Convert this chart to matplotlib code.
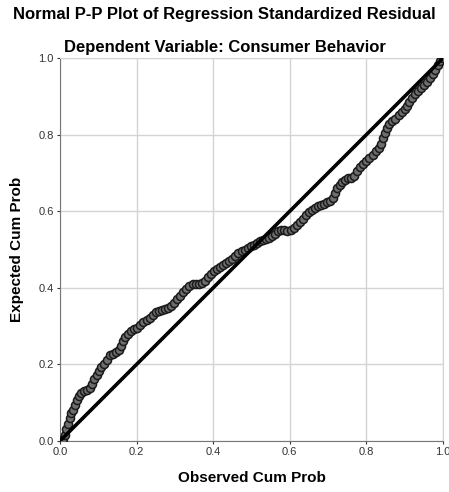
import matplotlib
matplotlib.use("Agg")
import matplotlib.pyplot as plt

# observed vs expected cumulative probability
observed = [0.000, 0.008, 0.013, 0.017, 0.021, 0.025, 0.030, 0.035, 0.040, 0.045,
            0.050, 0.055, 0.062, 0.070, 0.078, 0.084, 0.090, 0.096, 0.102, 0.108,
            0.115, 0.122, 0.130, 0.138, 0.146, 0.154, 0.160, 0.165, 0.170, 0.178,
            0.186, 0.194, 0.202, 0.210, 0.218, 0.226, 0.234, 0.242, 0.250, 0.258,
            0.266, 0.274, 0.282, 0.290, 0.298, 0.306, 0.314, 0.322, 0.330, 0.338,
            0.346, 0.354, 0.362, 0.370, 0.378, 0.386, 0.394, 0.402, 0.410, 0.418,
            0.426, 0.434, 0.442, 0.450, 0.458, 0.466, 0.474, 0.482, 0.490, 0.498,
            0.506, 0.514, 0.522, 0.530, 0.538, 0.546, 0.554, 0.562, 0.570, 0.578,
            0.586, 0.594, 0.602, 0.610, 0.618, 0.626, 0.634, 0.642, 0.650, 0.658,
            0.666, 0.674, 0.682, 0.690, 0.698, 0.706, 0.712, 0.718, 0.724, 0.730,
            0.736, 0.744, 0.752, 0.760, 0.768, 0.776, 0.784, 0.792, 0.800, 0.808,
            0.816, 0.824, 0.832, 0.838, 0.843, 0.848, 0.853, 0.860, 0.868, 0.876,
            0.884, 0.892, 0.900, 0.906, 0.912, 0.918, 0.926, 0.934, 0.942, 0.950,
            0.958, 0.966, 0.974, 0.980, 0.986, 0.992, 1.000]
expected = [0.000, 0.005, 0.015, 0.030, 0.045, 0.060, 0.072, 0.082, 0.095, 0.108,
            0.118, 0.126, 0.130, 0.134, 0.138, 0.150, 0.162, 0.172, 0.182, 0.192,
            0.200, 0.212, 0.224, 0.228, 0.232, 0.238, 0.248, 0.262, 0.272, 0.280,
            0.286, 0.292, 0.296, 0.302, 0.310, 0.316, 0.322, 0.330, 0.336, 0.340,
            0.343, 0.345, 0.347, 0.352, 0.360, 0.370, 0.378, 0.388, 0.398, 0.406,
            0.410, 0.411, 0.411, 0.412, 0.418, 0.428, 0.437, 0.443, 0.448, 0.454,
            0.460, 0.466, 0.470, 0.475, 0.482, 0.490, 0.496, 0.500, 0.504, 0.508,
            0.512, 0.516, 0.521, 0.525, 0.528, 0.531, 0.534, 0.540, 0.548, 0.551,
            0.550, 0.549, 0.550, 0.556, 0.565, 0.573, 0.581, 0.590, 0.598, 0.604,
            0.609, 0.613, 0.617, 0.620, 0.623, 0.627, 0.635, 0.648, 0.660, 0.668,
            0.676, 0.682, 0.686, 0.688, 0.692, 0.704, 0.716, 0.724, 0.732, 0.740,
            0.748, 0.756, 0.764, 0.776, 0.790, 0.804, 0.818, 0.828, 0.836, 0.842,
            0.850, 0.858, 0.866, 0.876, 0.886, 0.896, 0.906, 0.914, 0.922, 0.930,
            0.938, 0.948, 0.958, 0.970, 0.982, 0.992, 1.000]
ref_line = [0.0, 1.0]
ticks = [0.0, 0.2, 0.4, 0.6, 0.8, 1.0]

plt.rcParams['font.family'] = ['Liberation Sans', 'DejaVu Sans']

fig = plt.figure(figsize=(4.49, 4.92), dpi=100)
ax = fig.add_axes([0.1336, 0.1037, 0.853, 0.7783])

ax.plot(observed, expected, 'o', ms=5.8, mfc='#6e6e6e', mec='#1a1a1a', mew=1.1, zorder=3)
ax.plot(ref_line, ref_line, color='black', lw=2.6, zorder=4)

ax.set_xlim(0, 1)
ax.set_ylim(0, 1)
ax.set_xticks(ticks)
ax.set_yticks(ticks)
ax.set_xticklabels(['%.1f' % t for t in ticks])
ax.set_yticklabels(['%.1f' % t for t in ticks])
ax.tick_params(labelsize=8, colors='#333333', length=2, width=0.8, pad=2.5)
ax.grid(True, color='#d4d4d4', lw=1.0)
ax.set_axisbelow(True)
for s in ['top', 'right']:
    ax.spines[s].set_color('#d4d4d4')
for s in ['left', 'bottom']:
    ax.spines[s].set_color('#777777')

ax.set_xlabel('Observed Cum Prob', fontsize=11, fontweight='bold', labelpad=10)
ax.set_ylabel('Expected Cum Prob', fontsize=11, fontweight='bold', labelpad=10)

fig.text(0.5, 0.970, 'Normal P-P Plot of Regression Standardized Residual',
         ha='center', va='center', fontsize=12, fontweight='bold')
fig.text(0.5, 0.904, 'Dependent Variable: Consumer Behavior',
         ha='center', va='center', fontsize=12, fontweight='bold')

fig.savefig('out.png', dpi=100)
